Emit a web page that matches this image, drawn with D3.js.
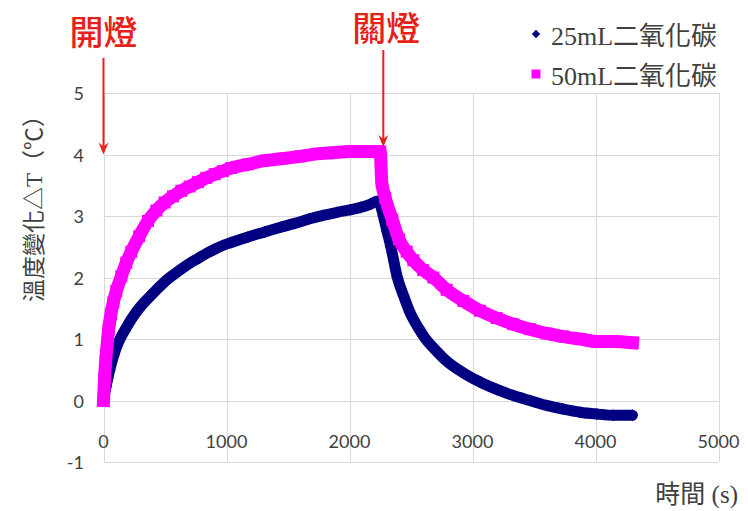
<!DOCTYPE html>
<html>
<head>
<meta charset="utf-8">
<script src="https://cdn.jsdelivr.net/npm/d3@7"></script>
<style>
body { margin: 0; background: #fff; }
svg { display: block; }
</style>
</head>
<body>
<div id="chart"></div>
<script>
// 25mL 二氧化碳 (navy diamonds)
const time25 = [0, 20, 35, 50, 65, 84, 110, 150, 190, 226, 290, 362, 430, 497, 565, 633, 700, 768, 836, 904, 970, 1039, 1175, 1310, 1446, 1554, 1670, 1785, 1900, 2004, 2090, 2167, 2226,
  2250, 2275, 2305, 2335, 2389, 2440, 2492, 2560, 2619, 2700, 2790, 2925, 3061, 3197, 3332, 3467, 3603, 3738, 3874, 4010, 4145, 4300];
const temp25 = [0, 0.22, 0.36, 0.49, 0.61, 0.74, 0.89, 1.06, 1.20, 1.32, 1.50, 1.66, 1.80, 1.93, 2.04, 2.14, 2.23, 2.31, 2.39, 2.46, 2.52, 2.57, 2.66, 2.74, 2.82, 2.88, 2.95, 3.01, 3.06, 3.10, 3.14, 3.19, 3.24,
  3.18, 3.00, 2.75, 2.51, 2.00, 1.70, 1.43, 1.18, 1.00, 0.82, 0.64, 0.45, 0.30, 0.18, 0.08, 0.00, -0.08, -0.14, -0.19, -0.22, -0.24, -0.24];

// 50mL 二氧化碳 (magenta squares)
const time50 = [0, 8, 18, 30, 42, 60, 80, 104, 145, 185, 226, 290, 362, 430, 497, 565, 633, 700, 768, 836, 904, 970, 1039, 1175, 1310, 1446, 1600, 1736, 1870, 2004, 2130, 2250,
  2262, 2290, 2348, 2402, 2465, 2519, 2600, 2682, 2790, 2925, 3061, 3197, 3332, 3467, 3603, 3738, 3874, 4010, 4145, 4300];
const temp50 = [0, 0.35, 0.65, 0.92, 1.16, 1.40, 1.60, 1.78, 2.02, 2.24, 2.42, 2.67, 2.92, 3.09, 3.22, 3.32, 3.41, 3.48, 3.55, 3.62, 3.68, 3.73, 3.78, 3.84, 3.90, 3.93, 3.97, 4.01, 4.03, 4.05, 4.05, 4.05,
  3.55, 3.30, 2.94, 2.62, 2.42, 2.28, 2.12, 2.00, 1.80, 1.62, 1.46, 1.34, 1.24, 1.16, 1.09, 1.04, 1.00, 0.96, 0.96, 0.94];

const seriesNames = ["25mL二氧化碳", "50mL二氧化碳"];
const xTicks = [0, 1000, 2000, 3000, 4000, 5000];
const yTicks = [-1, 0, 1, 2, 3, 4, 5];

// light on / light off annotations
const eventNames = ["開燈", "關燈"];
const eventTimes = [0, 2275];
const eventTemps = [4.0, 4.12];

const width = 748, height = 511;
const navy = "#000080", magenta = "#ff00ff", red = "#e8201a";
const cjk = "'Liberation Serif', 'Noto Sans CJK TC', serif";

const svg = d3.select("#chart").append("svg")
  .attr("width", width)
  .attr("height", height);

const x = d3.scaleLinear().domain([0, 5000]).range([103.5, 718.5]);
const y = d3.scaleLinear().domain([-1, 5]).range([462, 93]);

// grid
svg.append("g").selectAll("line")
  .data(xTicks).enter().append("line")
  .attr("x1", d => Math.round(x(d)) + 0.5).attr("x2", d => Math.round(x(d)) + 0.5)
  .attr("y1", y(5)).attr("y2", y(-1))
  .attr("stroke", "#d9d9d9");
svg.append("g").selectAll("line")
  .data(yTicks).enter().append("line")
  .attr("x1", x(0)).attr("x2", x(5000))
  .attr("y1", d => Math.round(y(d)) + 0.5).attr("y2", d => Math.round(y(d)) + 0.5)
  .attr("stroke", "#d9d9d9");

// tick labels
svg.append("g").selectAll("text")
  .data(yTicks).enter().append("text")
  .attr("x", 84).attr("y", d => y(d) + 7)
  .attr("text-anchor", "end")
  .style("font", "18px Lato, sans-serif").style("fill", "#404040")
  .text(d => d);
svg.append("g").selectAll("text")
  .data(xTicks).enter().append("text")
  .attr("x", d => x(d)).attr("y", 448)
  .attr("text-anchor", "middle")
  .style("font", "18px Lato, sans-serif").style("fill", "#404040")
  .text(d => d);

// axis titles
svg.append("text")
  .attr("transform", "translate(42,203) rotate(-90)")
  .attr("text-anchor", "middle")
  .style("font-size", "23px").style("font-family", cjk).style("fill", "#404040")
  .text("溫度變化△T（℃）");
svg.append("text")
  .attr("x", 738).attr("y", 503)
  .attr("text-anchor", "end")
  .style("font-size", "25px").style("font-family", cjk).style("fill", "#404040")
  .text("時間 (s)");

// series
let series = [
  {name: seriesNames[0], color: navy, w: 11, sym: "diamond", pts: time25.map((t, i) => [t, temp25[i]])},
  {name: seriesNames[1], color: magenta, w: 13, sym: "square", pts: time50.map((t, i) => [t, temp50[i]])}
];

let line = d3.line()
  .x(d => x(d[0]))
  .y(d => y(d[1]))
  .curve(d3.curveMonotoneX);

let diamond = d3.symbol().type(d3.symbolSquare).size(72);
let square = d3.symbol().type(d3.symbolSquare).size(144);

series.forEach(s => {
  svg.append("path")
    .attr("d", line(s.pts))
    .attr("fill", "none")
    .attr("stroke", s.color)
    .attr("stroke-width", s.w)
    .attr("stroke-linejoin", "round")
    .attr("stroke-linecap", s.sym == "square" ? "square" : "round");
  svg.append("g").selectAll("path")
    .data(s.pts).enter().append("path")
    .attr("d", s.sym == "square" ? square() : diamond())
    .attr("transform", d => "translate(" + x(d[0]) + "," + y(d[1]) + ")" + (s.sym == "square" ? "" : " rotate(45)"))
    .attr("fill", s.color);
});

// legend
let legend = svg.append("g");
let keys = legend.selectAll("g")
  .data(series).enter().append("g")
  .attr("transform", (d, i) => "translate(536," + (34 + i * 40) + ")");
keys.append("path")
  .attr("d", d => d.sym == "square" ? d3.symbol().type(d3.symbolSquare).size(81)() : d3.symbol().type(d3.symbolSquare).size(36)())
  .attr("transform", d => d.sym == "square" ? "" : "rotate(45)")
  .attr("fill", d => d.color);
keys.append("text")
  .attr("x", 15).attr("y", 11)
  .style("font-size", "26px").style("font-family", cjk).style("fill", "#404040")
  .text(d => d.name);

// annotations
let notes = svg.append("g").selectAll("g")
  .data(eventNames).enter().append("g");
notes.append("text")
  .attr("x", (d, i) => x(eventTimes[i]) + (i ? 3 : 0))
  .attr("y", (d, i) => i ? 41 : 45)
  .attr("text-anchor", "middle")
  .style("font", "500 34px 'Noto Sans CJK TC', sans-serif").style("fill", red)
  .text(d => d);
notes.append("line")
  .attr("x1", (d, i) => x(eventTimes[i])).attr("x2", (d, i) => x(eventTimes[i]))
  .attr("y1", (d, i) => i ? 50 : 58)
  .attr("y2", (d, i) => y(eventTemps[i]) - 8)
  .attr("stroke", red).attr("stroke-width", 2);
notes.append("path")
  .attr("d", (d, i) => {
    let px = x(eventTimes[i]), py = y(eventTemps[i]);
    return "M" + (px - 5) + "," + (py - 12) + "L" + px + "," + py + "L" + (px + 5) + "," + (py - 12) + "L" + px + "," + (py - 8) + "Z";
  })
  .attr("fill", red);
</script>
</body>
</html>
